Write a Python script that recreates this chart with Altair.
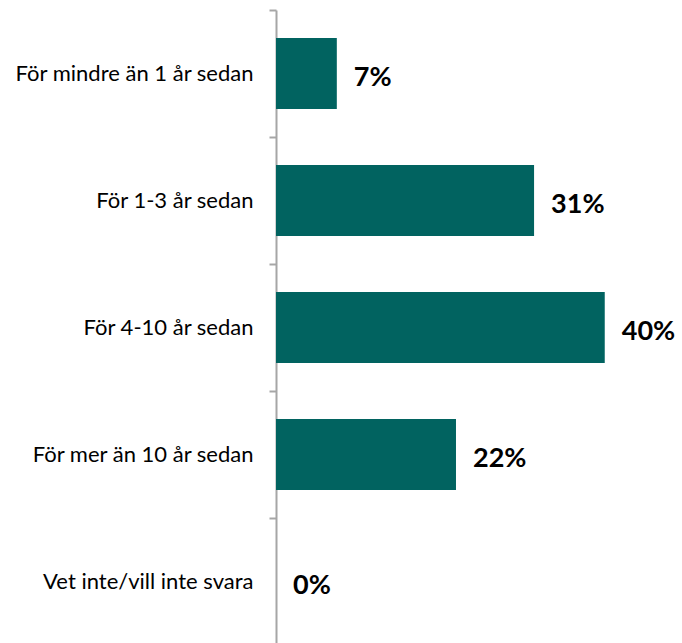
import altair as alt
import pandas as pd

categories = [
    "För mindre än 1 år sedan",
    "För 1-3 år sedan",
    "För 4-10 år sedan",
    "För mer än 10 år sedan",
    "Vet inte/vill inte svara",
]
values = [7.4, 31.4, 40.0, 21.9, 0.0]

df = pd.DataFrame({"cat": categories, "val": values})
df["label"] = [f"{round(v):.0f}%" for v in values]

W, H = 406, 635
x = alt.X("val:Q", scale=alt.Scale(domain=[0, 49.4], nice=False), axis=None)
y = alt.Y(
    "cat:N",
    sort=categories,
    scale=alt.Scale(paddingInner=0, paddingOuter=0),
    axis=alt.Axis(
        title=None,
        tickBand="extent",
        domainColor="#a6a6a6",
        domainWidth=2,
        tickColor="#a6a6a6",
        tickWidth=2,
        tickSize=7,
        labelPadding=16,
        labelFont="Lato",
        labelFontSize=22,
        labelColor="#000000",
        labelLimit=300,
    ),
)

bars = alt.Chart(df).mark_bar(color="#016360", height=71).encode(x=x, y=y)
text = alt.Chart(df).mark_text(
    align="left", baseline="middle", dx=17, dy=4, font="Lato", fontSize=27,
    fontWeight="bold", color="#000000",
).encode(x=x, y=y, text="label:N")

chart = (bars + text).properties(
    width=W, height=H,
    padding={"left": 276, "top": 10, "right": 0, "bottom": 0},
    autosize=alt.AutoSizeParams(type="none"),
).configure_view(stroke=None)

chart.save("out.html", embed_options={"renderer": "svg", "actions": False})
